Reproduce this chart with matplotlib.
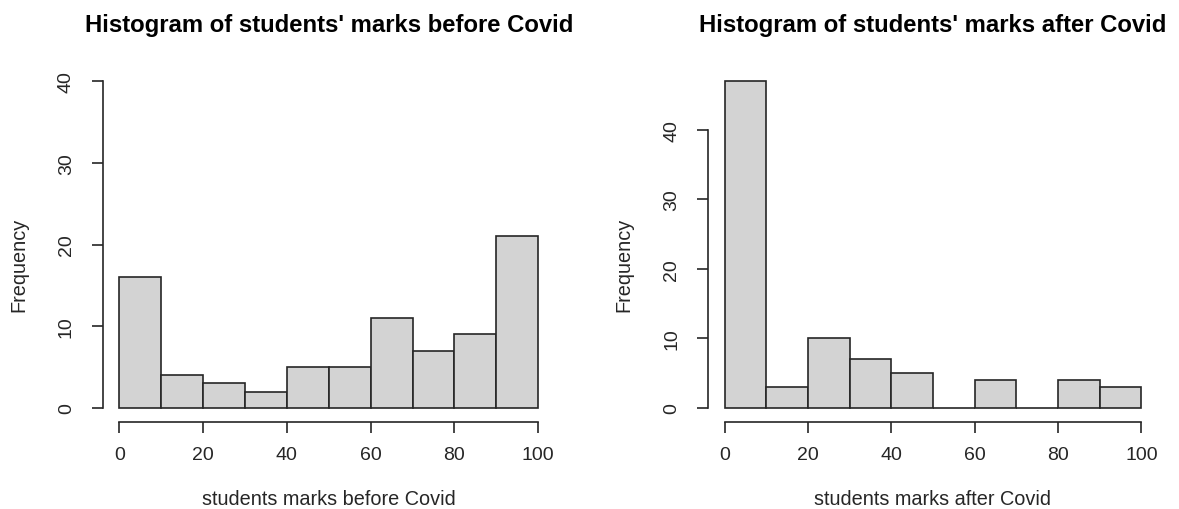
import matplotlib
matplotlib.use("Agg")
import matplotlib.pyplot as plt
import numpy as np

bin_edges = [0, 10, 20, 30, 40, 50, 60, 70, 80, 90, 100]
before_counts = [16, 4, 3, 2, 5, 5, 11, 7, 9, 21]
after_counts = [47, 3, 10, 7, 5, 0, 4, 0, 4, 3]
x_ticks = [0, 20, 40, 60, 80, 100]
before_yticks = [0, 10, 20, 30, 40]
after_yticks = [0, 10, 20, 30, 40]
titles = ["Histogram of students' marks before Covid", "Histogram of students' marks after Covid"]
xlabels = ["students marks before Covid", "students marks after Covid"]
ylabel = "Frequency"

plt.rcParams['font.family'] = ['Liberation Sans', 'DejaVu Sans']

fig = plt.figure(figsize=(11.79, 5.10), dpi=100)
W, H = 1179, 510
INK = '#262626'

def make_axes(left_px, right_px, top_px, bottom_px):
    return fig.add_axes([left_px / W, (H - bottom_px) / H, (right_px - left_px) / W, (bottom_px - top_px) / H])

def draw(left_px, right_px, counts, yticks, ymax, title, xlabel):
    ax = make_axes(left_px, right_px, 69, 422)
    edges = np.array(bin_edges)
    widths = np.diff(edges)
    ax.bar(edges[:-1], counts, width=widths, align='edge', color='#d3d3d3',
           edgecolor=INK, linewidth=1.2)
    ax.set_xlim(-4, 104)
    ax.set_ylim(-0.04 * ymax, ymax * 1.04)
    for s in ['top', 'right']:
        ax.spines[s].set_visible(False)
    ax.spines['left'].set_bounds(yticks[0], yticks[-1])
    ax.spines['bottom'].set_bounds(0, 100)
    for s in ['left', 'bottom']:
        ax.spines[s].set_color(INK)
        ax.spines[s].set_linewidth(1.2)
    ax.spines['bottom'].set_position(('outward', 1))
    ax.set_xticks(x_ticks)
    ax.set_yticks(yticks)
    ax.set_yticklabels([str(t) for t in yticks], rotation=90, va='center', ha='center')
    ax.tick_params(axis='both', length=8, width=1.2, color=INK, labelsize=14,
                   labelcolor=INK)
    ax.tick_params(axis='x', pad=9)
    ax.tick_params(axis='y', pad=18)
    cx = (left_px + right_px) / 2 / W
    fig.text(cx, (H - 32) / H, title, ha='center', va='baseline',
             fontsize=17.2, fontweight='bold', color='black')
    fig.text(cx, (H - 505) / H, xlabel, ha='center', va='baseline',
             fontsize=14.3, color=INK)
    fig.text((left_px - 84) / W, (69 + 422) / 2 / H, ylabel, rotation=90,
             ha='center', va='center', fontsize=14.3, color=INK)
    return ax

draw(102.5, 555, before_counts, before_yticks, 40, titles[0], xlabels[0])
draw(708, 1158, after_counts, after_yticks, max(after_counts), titles[1], xlabels[1])

fig.savefig('out.png', dpi=100, facecolor='white')
